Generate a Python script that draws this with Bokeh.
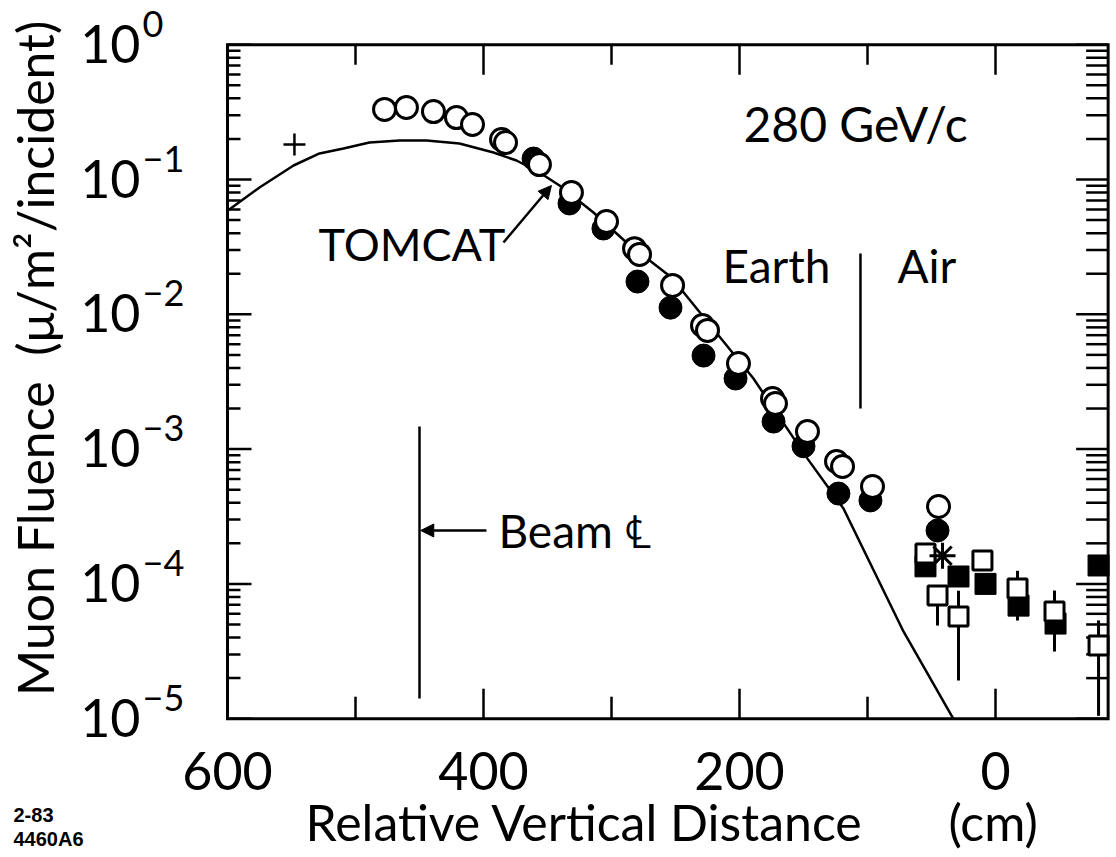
import numpy as np
from bokeh.plotting import figure
from bokeh.models import Range1d, Label, Arrow, NormalHead
from bokeh.core.properties import value
from bokeh.embed import file_html
from bokeh.resources import INLINE

# ---------------- data ----------------
open_circle_x = [477.3, 460.2, 439.1, 421.1, 408.6, 385.9, 382.8, 356.3, 331.3, 303.9,
                 282, 278.1, 252.3, 228.9, 225, 200.8, 174.2, 171.9, 146.9, 124.2, 119.5,
                 96.1, 44.5]
open_circle_y = [0.331, 0.342, 0.319, 0.288, 0.256, 0.198, 0.188, 0.129, 0.080, 0.0488,
                 0.0307, 0.0278, 0.01637, 0.00826, 0.00759, 0.00431, 0.00237, 0.00218,
                 0.00135, 8.09e-4, 7.43e-4, 5.28e-4, 3.75e-4]

filled_circle_x = [360.9, 332.8, 306.3, 279.7, 253.9, 228.1, 203.1, 173.4, 150, 122.7,
                   97.7, 45.3]
filled_circle_y = [0.143, 0.0664, 0.0433, 0.0175, 0.0112, 0.00494, 0.00334, 0.0016,
                   0.00105, 4.68e-4, 4.16e-4, 2.49e-4]

open_square_x = [54.7, 45.3, 28.9, 10.2, -17.2, -46.1, -80.5]
open_square_y = [1.68e-4, 8.2e-5, 5.73e-5, 1.49e-4, 9.25e-5, 6.24e-5, 3.49e-5]
open_square_lo = [1.68e-4, 4.91e-5, 1.92e-5, 1.49e-4, 5.35e-5, 3.15e-5, 1.05e-5]
open_square_hi = [1.68e-4, 8.2e-5, 8.9e-5, 1.49e-4, 1.25e-4, 8.93e-5, 5.36e-5]

filled_square_x = [54.7, 28.9, 7.8, -18, -46.9, -80.5]
filled_square_y = [1.35e-4, 1.135e-4, 1.0e-4, 6.9e-5, 5.08e-5, 1.37e-4]

asterisk_x = [41.4]
asterisk_y = [1.62e-4]

plus_x = [547.7]
plus_y = [0.1815]

tomcat_x = [600, 575, 548.4, 528.1, 509.4, 489.1, 465.6, 444.5, 418.8, 392.2, 374.2,
            356.3, 340.6, 314.1, 288.3, 253.1, 189.1, 146.9, 118.8, 71.9, 33]
tomcat_y = [0.0587, 0.0873, 0.127, 0.156, 0.170, 0.188, 0.1945, 0.1945, 0.185, 0.1585,
            0.1383, 0.1127, 0.0903, 0.0569, 0.0341, 0.01875, 0.00334, 8.5e-4, 3.63e-4,
            4.44e-5, 1.0e-5]

beam_line_x = 450
beam_line_y = [1.41e-5, 1.47e-3]
earth_air_x = 105.5
earth_air_y = [2.0e-3, 0.0282]

x_major_ticks = [600, 400, 200, 0]
x_minor_ticks = [500, 300, 100]
y_exponents = [0, -1, -2, -3, -4, -5]

# ---------------- geometry of the drawing ----------------
FONT = "Lato"
CANVAS_W, CANVAS_H = 1112, 853
X_LEFT, X_RIGHT = 600, -88            # plotted box limits (cm)
Y_BOTTOM, Y_TOP = 1e-5, 1.0           # plotted box limits (fluence)
PX_PER_CM = 1.28
PX_PER_DEC = 134.8
BOX_L, BOX_T = 227, 44.2              # canvas pixel of the box's top-left corner
BOX_R = BOX_L + (X_LEFT - X_RIGHT) * PX_PER_CM
BOX_B = BOX_T + np.log10(Y_TOP / Y_BOTTOM) * PX_PER_DEC


def cx2x(cx):
    return X_LEFT - (cx - BOX_L) / PX_PER_CM


def cy2y(cy):
    return 10 ** (np.log10(Y_TOP) - (cy - BOX_T) / PX_PER_DEC)


p = figure(width=CANVAS_W, height=CANVAS_H,
           x_range=Range1d(cx2x(0), cx2x(CANVAS_W)),
           y_range=Range1d(cy2y(CANVAS_H), cy2y(0)),
           y_axis_type="log", x_axis_location=None, y_axis_location=None,
           output_backend="svg", toolbar_location=None, min_border=0,
           outline_line_color=None, background_fill_color="white",
           border_fill_color="white")
p.grid.visible = False

# ---------------- plot box and ticks (drawn inward) ----------------
decades = [10.0 ** e for e in y_exponents]
y_minor = [k * 10.0 ** e for e in range(-5, 0) for k in range(2, 10)]

TICK_W = 2.5
for ticks, length_b, length_t in ((x_major_ticks, 30, 30), (x_minor_ticks, 22, 20)):
    n = len(ticks)
    p.segment(x0=ticks, y0=[Y_BOTTOM] * n, x1=ticks, y1=[cy2y(BOX_B - length_b)] * n,
              line_color="black", line_width=TICK_W)
    p.segment(x0=ticks, y0=[Y_TOP] * n, x1=ticks, y1=[cy2y(BOX_T + length_t)] * n,
              line_color="black", line_width=TICK_W)
for ticks, length_l, length_r in ((decades, 24, 32), (y_minor, 13, 22)):
    n = len(ticks)
    p.segment(x0=[X_LEFT] * n, y0=ticks, x1=[cx2x(BOX_L + length_l)] * n, y1=ticks,
              line_color="black", line_width=TICK_W)
    p.segment(x0=[X_RIGHT] * n, y0=ticks, x1=[cx2x(BOX_R - length_r)] * n, y1=ticks,
              line_color="black", line_width=TICK_W)
p.quad(left=[X_LEFT], right=[X_RIGHT], bottom=[Y_BOTTOM], top=[Y_TOP],
       fill_color=None, line_color="black", line_width=3, line_join="miter")

# ---------------- marks ----------------
p.line(tomcat_x, tomcat_y, line_color="black", line_width=2.5)

p.segment(x0=[beam_line_x], y0=[beam_line_y[0]], x1=[beam_line_x], y1=[beam_line_y[1]],
          line_color="black", line_width=2.5)
p.segment(x0=[earth_air_x], y0=[earth_air_y[0]], x1=[earth_air_x], y1=[earth_air_y[1]],
          line_color="black", line_width=2.5)

p.scatter(plus_x, plus_y, marker="cross", size=22, line_color="black", line_width=2.5)

p.scatter(filled_circle_x, filled_circle_y, marker="circle", size=23,
          fill_color="black", line_color="black", line_width=1)
p.scatter(open_circle_x, open_circle_y, marker="circle", size=22,
          fill_color="white", line_color="black", line_width=3)

p.segment(x0=open_square_x, y0=open_square_lo, x1=open_square_x, y1=open_square_hi,
          line_color="black", line_width=3)
p.scatter(filled_square_x, filled_square_y, marker="square", size=21,
          fill_color="black", line_color="black", line_width=1)
p.scatter(open_square_x, open_square_y, marker="square", size=19,
          fill_color="white", line_color="black", line_width=3)
p.scatter(asterisk_x, asterisk_y, marker="asterisk", size=26,
          line_color="black", line_width=3)

# ---------------- tick labels ----------------
p.text(x=x_major_ticks, y=[cy2y(BOX_B + 52)] * len(x_major_ticks),
       text=[str(t) for t in x_major_ticks], text_font=value(FONT),
       text_font_size="52px", text_align="center", text_baseline="middle",
       text_color="black")

tick_cy = [BOX_T + (-e) * PX_PER_DEC for e in y_exponents]
p.text(x=[cx2x(140)] * len(y_exponents), y=[cy2y(c - 1) for c in tick_cy],
       text=["10"] * len(y_exponents), text_font=value(FONT), text_font_size="52px",
       text_align="right", text_baseline="middle", text_color="black")
p.text(x=[cx2x(142)] * len(y_exponents), y=[cy2y(c - 21) for c in tick_cy],
       text=["0" if e == 0 else "\u2212" + str(-e) for e in y_exponents],
       text_font=value(FONT), text_font_size="36px", text_align="left",
       text_baseline="middle", text_color="black")


# ---------------- texts ----------------
def lab(x, y, text, size, align="left", angle=0.0, font=FONT, style="normal"):
    p.add_layout(Label(x=x, y=y, text=text, text_font=font, text_font_size=size,
                       text_align=align, text_baseline="middle", angle=angle,
                       text_color="black", text_font_style=style))


lab(196.9, 0.26, "280 GeV/c", "48px")
lab(528.9, 0.033, "TOMCAT", "45px")
lab(128.9, 0.023, "Earth", "46px", align="right")
lab(76.6, 0.023, "Air", "46px")
lab(388.3, 2.49e-4, "Beam \u2104", "46px")

lab(cx2x(305), cy2y(821), "Relative Vertical Distance", "50px")
lab(cx2x(948), cy2y(821), "(cm)", "50px")
lab(cx2x(34), cy2y(358), "Muon Fluence \u00a0(\u03bc/m\u00b2/incident)", "50px",
    align="center", angle=np.pi / 2)

lab(cx2x(13), cy2y(814), "2-83", "20px", font="Liberation Sans", style="bold")
lab(cx2x(13), cy2y(838), "4460A6", "20px", font="Liberation Sans", style="bold")

p.add_layout(Arrow(end=NormalHead(size=13, fill_color="black", line_color="black"),
                   x_start=384.4, y_start=0.0341, x_end=346.9, y_end=0.0903,
                   line_color="black", line_width=2.5))
p.add_layout(Arrow(end=NormalHead(size=13, fill_color="black", line_color="black"),
                   x_start=397.7, y_start=2.49e-4, x_end=449, y_end=2.49e-4,
                   line_color="black", line_width=2.5))

open("out.html", "w").write(file_html(p, INLINE))
